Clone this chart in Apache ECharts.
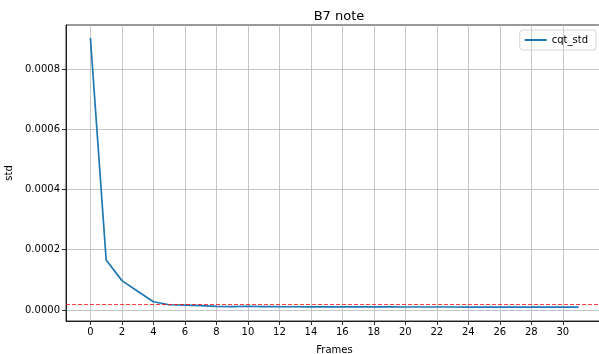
<!DOCTYPE html>
<html>
<head>
<meta charset="utf-8">
<script src="https://cdn.jsdelivr.net/npm/echarts@6/dist/echarts.min.js"></script>
<style>html,body{margin:0;padding:0;background:#fff}#c{width:599px;height:354px}</style>
</head>
<body>
<div id="c"></div>
<script>
const frames = [0,1,2,3,4,5,6,7,8,9,10,11,12,13,14,15,16,17,18,19,20,21,22,23,24,25,26,27,28,29,30,31];
const cqtStd = [0.000903,0.000166,0.0000975,0.000062,0.0000275,0.0000175,0.0000165,0.0000145,0.000012,0.0000115,0.0000125,0.0000115,0.000011,0.0000108,0.0000106,0.0000105,0.0000104,0.0000103,0.0000102,0.0000101,0.00001,0.00001,0.0000099,0.0000099,0.0000098,0.0000098,0.0000097,0.0000097,0.0000096,0.0000096,0.0000095,0.0000095];
const threshold = 0.00002;
const xTicks = [0,2,4,6,8,10,12,14,16,18,20,22,24,26,28,30];
const yTicks = [0,0.0002,0.0004,0.0006,0.0008];
const xMin = -1.55, xMax = 32.55;

const chart = echarts.init(document.getElementById('c'), null, {renderer:'canvas'});
const font = 'DejaVu Sans';
chart.setOption({
  animation:false,
  title:{text:'B7 note', left:334, textAlign:'center', top:5,
    textStyle:{fontFamily:font, fontSize:13, fontWeight:'normal', color:'#000'}},
  legend:{right:3, top:30, orient:'vertical', borderColor:'#d5d5d5', borderWidth:1, borderRadius:3,
    padding:[5,8,5,5], itemWidth:22, itemHeight:2, itemGap:6, icon:'rect',
    textStyle:{fontFamily:font, fontSize:10, color:'#000'}, data:['cqt_std']},
  grid:{left:66, right:-4, top:25, bottom:33, outerBoundsMode:'none', containLabel:false,
    show:true, borderColor:'#000', borderWidth:0.8, backgroundColor:'transparent'},
  xAxis:{type:'value', min:xMin, max:xMax,
    name:'Frames', nameLocation:'middle', nameGap:24,
    nameTextStyle:{fontFamily:font, fontSize:10, color:'#000'},
    axisLine:{show:true, onZero:false, lineStyle:{color:'#000', width:0.8}},
    axisTick:{show:true, length:4, customValues:xTicks, lineStyle:{color:'#000', width:0.8}},
    axisLabel:{customValues:xTicks, fontFamily:font, fontSize:10, color:'#000', margin:6},
    splitLine:{show:true, lineStyle:{color:'#b8b8b8', width:0.8}}},
  yAxis:{type:'value', min:-0.0000365, max:0.000946,
    name:'std', nameLocation:'middle', nameGap:51,
    nameTextStyle:{fontFamily:font, fontSize:10, color:'#000'},
    axisLine:{show:true, onZero:false, lineStyle:{color:'#000', width:0.8}},
    axisTick:{show:true, length:4, customValues:yTicks, lineStyle:{color:'#000', width:0.8}},
    axisLabel:{customValues:yTicks, fontFamily:font, fontSize:10, color:'#000', margin:6,
      formatter:v=>v.toFixed(4)},
    splitLine:{show:true, lineStyle:{color:'#b8b8b8', width:0.8}}},
  series:[{name:'cqt_std', type:'line', symbol:'none', data:frames.map((f,i)=>[f,cqtStd[i]]),
    lineStyle:{color:'#1f77b4', width:1.7}, itemStyle:{color:'#1f77b4'},
    markLine:{silent:true, symbol:'none', label:{show:false},
      lineStyle:{color:'rgba(255,0,0,0.75)', type:[4,2], width:1},
      data:[[{coord:[xMin, threshold]},{coord:[xMax, threshold]}]]}}]
});
</script>
</body>
</html>
